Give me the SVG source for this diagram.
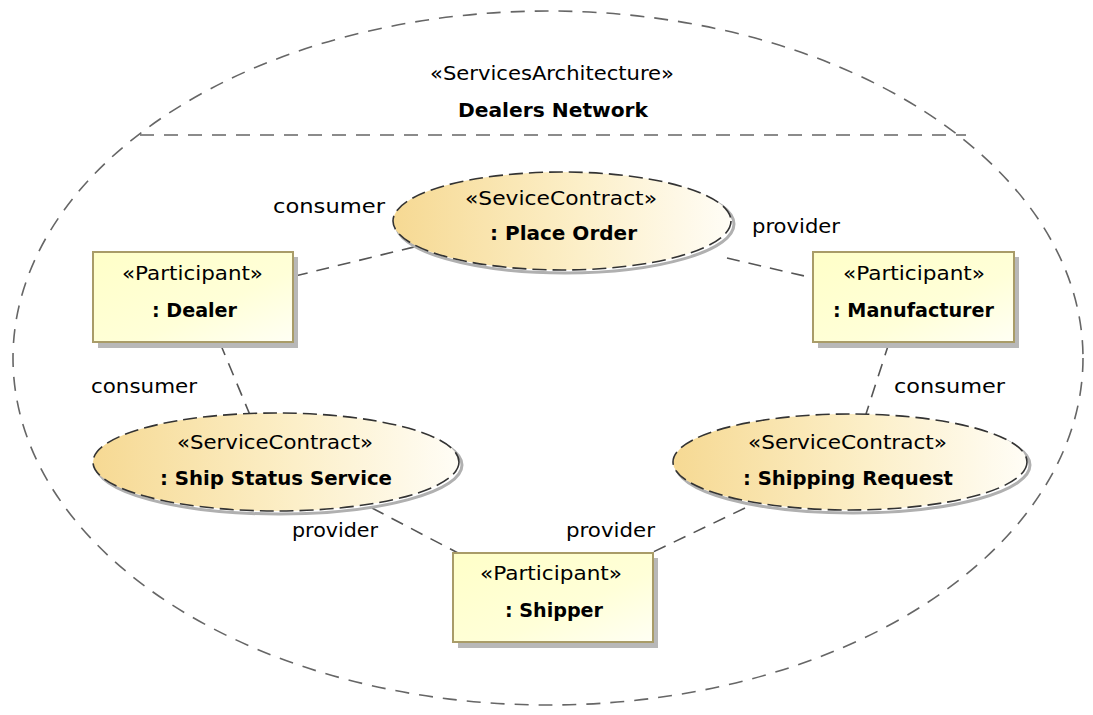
<svg xmlns="http://www.w3.org/2000/svg" width="1093" height="715" viewBox="0 0 1093 715">
<defs>
<linearGradient id="gEll" x1="0" y1="0" x2="1" y2="0">
<stop offset="0" stop-color="#f6d993"/>
<stop offset="0.55" stop-color="#fcefc8"/>
<stop offset="1" stop-color="#fffdf6"/>
</linearGradient>
<linearGradient id="gBox" x1="0" y1="0" x2="1" y2="1">
<stop offset="0" stop-color="#ffffc8"/>
<stop offset="0.6" stop-color="#ffffd8"/>
<stop offset="1" stop-color="#fffff4"/>
</linearGradient>
</defs>
<style>
text{font-family:"DejaVu Sans","Liberation Sans",sans-serif;fill:#000;font-size:19px}
.b{font-weight:bold;font-size:20px}
.conn{stroke:#555;stroke-width:1.6;stroke-dasharray:13 9;fill:none}
.ell{fill:url(#gEll);stroke:#333;stroke-width:1.6;stroke-dasharray:14 6}
.esh{fill:none;stroke:#b0b0b0;stroke-width:3}
.box{fill:url(#gBox);stroke:#a99c68;stroke-width:2}
.bsh{fill:#b8b8b8}
.outer{fill:none;stroke:#666;stroke-width:1.6;stroke-dasharray:14 10}
</style>
<rect width="1093" height="715" fill="#fff"/>
<g id="dealers-network">
<ellipse class="outer" cx="548" cy="358" rx="535" ry="347"/>
<line class="outer" x1="140" y1="135" x2="966" y2="135"/>
<text x="430" y="80" textLength="244" lengthAdjust="spacingAndGlyphs">«ServicesArchitecture»</text>
<text class="b" x="458" y="117" textLength="190" lengthAdjust="spacingAndGlyphs">Dealers Network</text>
</g>
<g id="connectors">
<line class="conn" x1="295" y1="276" x2="418" y2="246"/>
<line class="conn" x1="727" y1="258" x2="813" y2="278"/>
<line class="conn" x1="220" y1="343" x2="250" y2="415"/>
<line class="conn" x1="889" y1="343" x2="866" y2="414"/>
<line class="conn" x1="372" y1="508" x2="458" y2="553"/>
<line class="conn" x1="745" y1="508" x2="651" y2="553"/>
<text x="273" y="213" textLength="112" lengthAdjust="spacingAndGlyphs">consumer</text>
<text x="752" y="233" textLength="88" lengthAdjust="spacingAndGlyphs">provider</text>
<text x="91" y="393" textLength="106" lengthAdjust="spacingAndGlyphs">consumer</text>
<text x="894" y="393" textLength="111" lengthAdjust="spacingAndGlyphs">consumer</text>
<text x="292" y="537" textLength="86" lengthAdjust="spacingAndGlyphs">provider</text>
<text x="566" y="537" textLength="89" lengthAdjust="spacingAndGlyphs">provider</text>
</g>
<g id="place-order">
<ellipse class="esh" cx="565" cy="224" rx="169" ry="49"/>
<ellipse class="ell" cx="562" cy="221" rx="169" ry="49"/>
<text x="465" y="205" textLength="192" lengthAdjust="spacingAndGlyphs">«SeviceContract»</text>
<text class="b" x="490" y="240" textLength="147" lengthAdjust="spacingAndGlyphs">: Place Order</text>
</g>
<g id="dealer">
<rect class="bsh" x="98" y="257" width="200" height="91"/>
<rect class="box" x="93" y="252" width="200" height="90"/>
<text x="122" y="280" textLength="141" lengthAdjust="spacingAndGlyphs">«Participant»</text>
<text class="b" x="152" y="317" textLength="85" lengthAdjust="spacingAndGlyphs">: Dealer</text>
</g>
<g id="manufacturer">
<rect class="bsh" x="818" y="257" width="201" height="91"/>
<rect class="box" x="813" y="252" width="201" height="90"/>
<text x="843" y="280" textLength="142" lengthAdjust="spacingAndGlyphs">«Participant»</text>
<text class="b" x="833" y="317" textLength="161" lengthAdjust="spacingAndGlyphs">: Manufacturer</text>
</g>
<g id="ship-status-service">
<ellipse class="esh" cx="279" cy="465" rx="183" ry="49"/>
<ellipse class="ell" cx="276" cy="462" rx="183" ry="49"/>
<text x="177" y="449" textLength="196" lengthAdjust="spacingAndGlyphs">«ServiceContract»</text>
<text class="b" x="160" y="485" textLength="232" lengthAdjust="spacingAndGlyphs">: Ship Status Service</text>
</g>
<g id="shipping-request">
<ellipse class="esh" cx="853" cy="465" rx="177" ry="48"/>
<ellipse class="ell" cx="850" cy="462" rx="177" ry="48"/>
<text x="748" y="449" textLength="199" lengthAdjust="spacingAndGlyphs">«ServiceContract»</text>
<text class="b" x="743" y="485" textLength="210" lengthAdjust="spacingAndGlyphs">: Shipping Request</text>
</g>
<g id="shipper">
<rect class="bsh" x="458" y="558" width="200" height="90"/>
<rect class="box" x="453" y="553" width="200" height="89"/>
<text x="480" y="580" textLength="142" lengthAdjust="spacingAndGlyphs">«Participant»</text>
<text class="b" x="505" y="617" textLength="98" lengthAdjust="spacingAndGlyphs">: Shipper</text>
</g>
</svg>
